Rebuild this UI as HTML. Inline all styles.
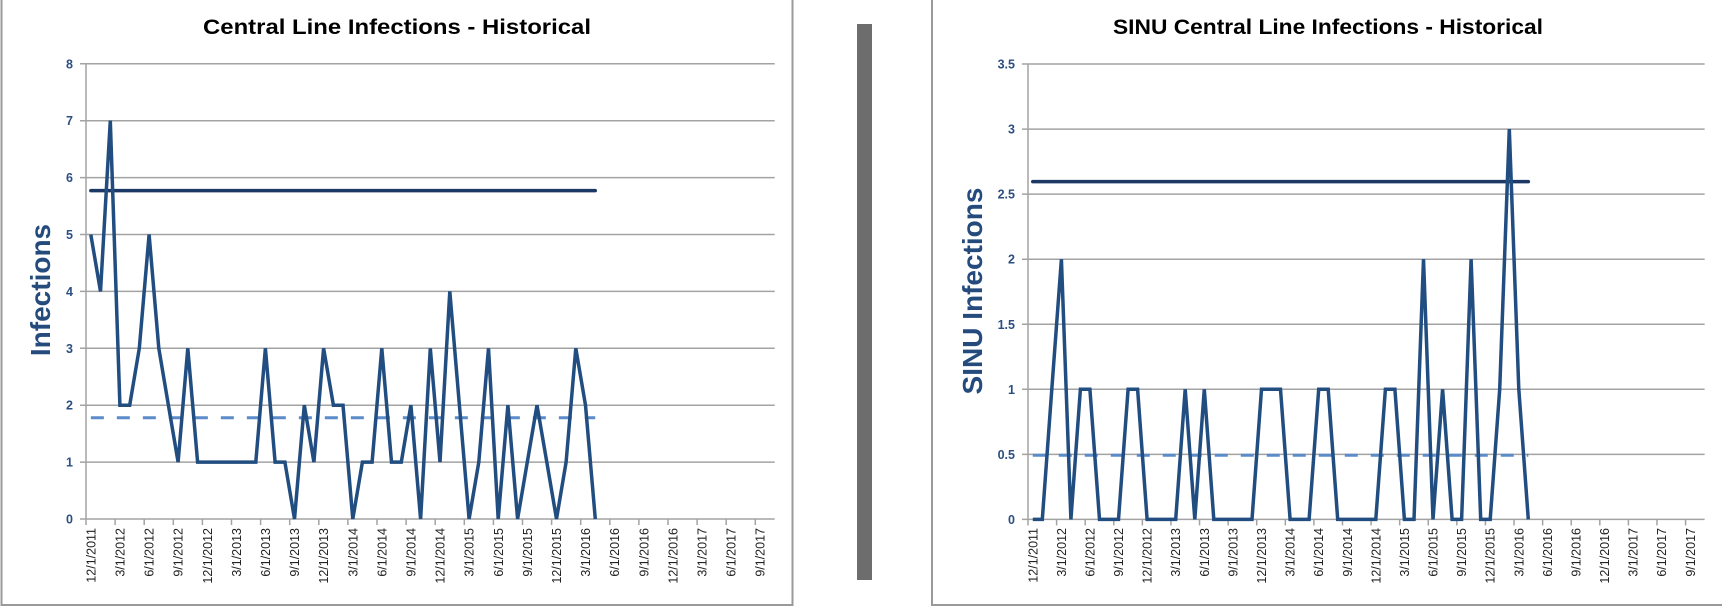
<!DOCTYPE html>
<html><head><meta charset="utf-8"><style>
html,body{margin:0;padding:0;background:#fff;}
svg{display:block;font-family:"Liberation Sans",sans-serif;}
</style></head><body>
<svg id="s" width="1722" height="608" xmlns="http://www.w3.org/2000/svg">
<rect x="1.5" y="-2" width="791" height="607" fill="#fff" stroke="#9a9a9a" stroke-width="2"/>
<rect x="932" y="-2" width="800" height="607" fill="#fff" stroke="#9a9a9a" stroke-width="2"/>
<rect x="857" y="24" width="15" height="556" fill="#6d6d6d"/>
<text x="397" y="34" text-anchor="middle" font-size="21" font-weight="bold" fill="#000" textLength="388" lengthAdjust="spacingAndGlyphs">Central Line Infections - Historical</text>
<text x="1328" y="34" text-anchor="middle" font-size="21" font-weight="bold" fill="#000" textLength="430" lengthAdjust="spacingAndGlyphs">SINU Central Line Infections - Historical</text>
<text transform="translate(50,290) rotate(-90)" text-anchor="middle" font-size="28" font-weight="bold" fill="#254b7d">Infections</text>
<text transform="translate(982,291) rotate(-90)" text-anchor="middle" font-size="28" font-weight="bold" fill="#254b7d">SINU Infections</text>
<g id="g"></g>
</svg>
<script>
var g=document.getElementById('g'),h='';
var labels=[];
var mons=[12,3,6,9],yr=2011;
for(var k=0;k<24;k++){var m=mons[k%4];if(m==3)yr++;labels.push(m+'/1/'+yr);}
function chart(x0,step,y0,unit,ymax,ystep,fmt,data,ucl,cl){
 var N=71,x1=x0+N*step;
 for(var v=0;v<=ymax+1e-9;v+=ystep){var y=y0-v*unit;
  h+='<line x1="'+(x0-6)+'" y1="'+y+'" x2="'+x1+'" y2="'+y+'" stroke="#a3a3a3" stroke-width="1.5"/>';
  h+='<text x="'+(x0-13)+'" y="'+(y+4.5)+'" text-anchor="end" font-size="12.5" font-weight="bold" fill="#2c4f80">'+fmt(v)+'</text>';}
 h+='<line x1="'+x0+'" y1="'+(y0-ymax*unit)+'" x2="'+x0+'" y2="'+y0+'" stroke="#a3a3a3" stroke-width="1.5"/>';
 for(var k=0;k<=23;k++){var tx=x0+k*3*step;
  h+='<line x1="'+tx+'" y1="'+y0+'" x2="'+tx+'" y2="'+(y0+6)+'" stroke="#a3a3a3" stroke-width="1.5"/>';
  var lx=tx+step*0.5+4.5;
  h+='<text transform="translate('+lx+',528) rotate(-90)" text-anchor="end" font-size="12.5" fill="#222">'+labels[k]+'</text>';}
 var xe=x0+step*52.5;
 var xs=x0+step*0.5;
 h+='<line x1="'+xs+'" y1="'+(y0-cl*unit)+'" x2="'+xe+'" y2="'+(y0-cl*unit)+'" stroke="#5b8bc8" stroke-width="3" stroke-dasharray="13,13"/>';
 h+='<line x1="'+xs+'" y1="'+(y0-ucl*unit)+'" x2="'+xe+'" y2="'+(y0-ucl*unit)+'" stroke="#1c3966" stroke-width="3.5" stroke-linecap="round"/>';
 var p=[];for(var i=0;i<data.length;i++)p.push((x0+step*(i+0.5)).toFixed(1)+','+(y0-data[i]*unit).toFixed(1));
 h+='<polyline points="'+p.join(' ')+'" fill="none" stroke="#214d80" stroke-width="3.5" stroke-linejoin="miter"/>';
}
var L=[5,4,7,2,2,3,5,3,2,1,3,1,1,1,1,1,1,1,3,1,1,0,2,1,3,2,2,0,1,1,3,1,1,2,0,3,1,4,2,0,1,3,0,2,0,1,2,1,0,1,3,2,0];
var R=[0,0,1,2,0,1,1,0,0,0,1,1,0,0,0,0,1,0,1,0,0,0,0,0,1,1,1,0,0,0,1,1,0,0,0,0,0,1,1,0,0,2,0,1,0,0,2,0,0,1,3,1,0];
chart(86,9.7,519,56.9,8,1,function(v){return v},L,5.77,1.78);
chart(1028,9.53,519.4,130.1,3.5,0.5,function(v){return String(Math.round(v*10)/10)},R,2.596,0.493);
g.innerHTML=h;
</script>
</body></html>
